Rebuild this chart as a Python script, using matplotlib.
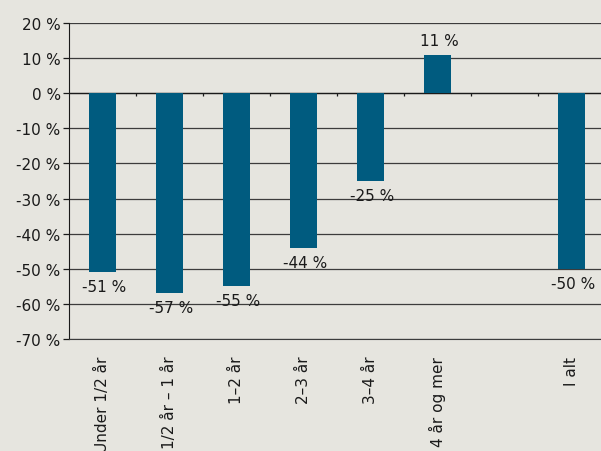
import matplotlib.pyplot as plt
import numpy as np

categories = ["Under 1/2 år", "1/2 år – 1 år", "1–2 år", "2–3 år", "3–4 år",
              "4 år og mer", "", "I alt"]
values = [-51, -57, -55, -44, -25, 11, np.nan, -50]
labels = ["-51 %", "-57 %", "-55 %", "-44 %", "-25 %", "11 %", "", "-50 %"]
yticks = list(range(-70, 21, 10))

BG = "#e6e5df"
BAR = "#005b7f"

fig = plt.figure(figsize=(6.01, 4.52), dpi=100, facecolor=BG)
ax = fig.add_axes([0.1148, 0.2478, 0.8918, 0.6991], facecolor=BG)

x = np.arange(len(categories))
ax.bar(x, values, width=0.4, color=BAR, zorder=3)

for xi, v, lab in zip(x, values, labels):
    if np.isnan(v):
        continue
    off = 10 if v > 0 else -10.5
    ax.annotate(lab, (xi, v), xytext=(1.5, off), textcoords="offset points",
                ha="center", va="center", fontsize=11, color="#1a1a1a", zorder=4)

ax.set_xlim(-0.5, len(categories) - 0.5)
ax.set_ylim(-70, 20)
ax.set_yticks(yticks)
ax.set_yticklabels([f"{t} %" for t in yticks], fontsize=11, color="#1a1a1a")
ax.yaxis.grid(True, color="#3c3c3c", linewidth=0.9, zorder=1)
ax.tick_params(axis="y", length=4, width=0.9, color="#1a1a1a", pad=2)

ax.set_xticks(x)
ax.set_xticklabels(categories, rotation=90, fontsize=11, color="#1a1a1a",
                   va="top", ha="center")
ax.tick_params(axis="x", length=0, pad=12)

# small tick marks on the zero line between categories
bounds = np.arange(0.5, len(categories) - 0.5, 1.0)
ax.vlines(bounds, -0.9, 0, color="#1a1a1a", linewidth=0.9, zorder=2)
ax.axhline(0, color="#1a1a1a", linewidth=0.9, zorder=2)

for s in ["top", "right"]:
    ax.spines[s].set_visible(False)
ax.spines["left"].set_color("#1a1a1a")
ax.spines["bottom"].set_color("#3c3c3c")

fig.savefig("out.png", dpi=100, facecolor=BG)
